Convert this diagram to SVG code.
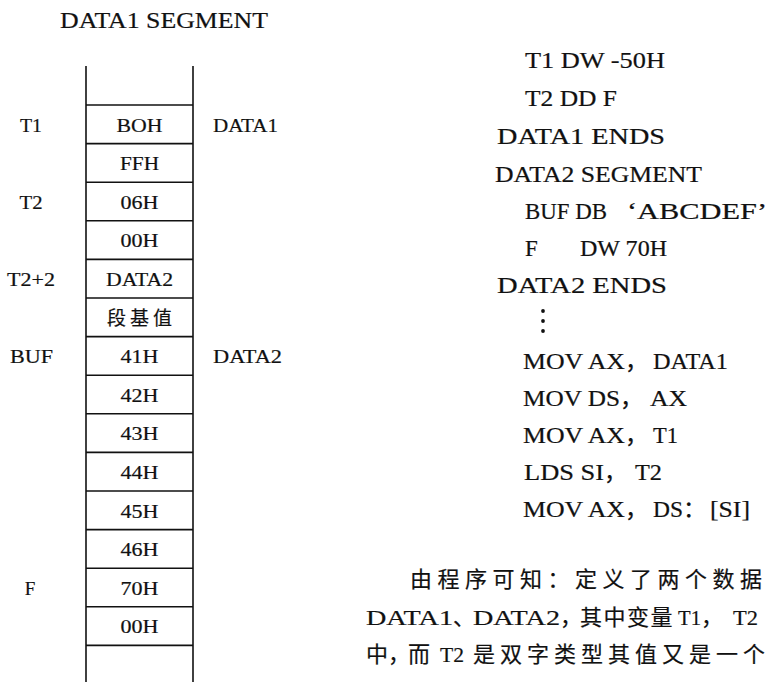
<svg xmlns="http://www.w3.org/2000/svg" width="770" height="682" viewBox="0 0 770 682">
<style>
.t{font-family:"Liberation Serif","Noto Sans CJK SC",serif;fill:#111;stroke:#111;stroke-width:0.2}
.h{font-size:23px}
.c{font-size:23px}
.m{font-size:19px}
.mc{font-size:19px;text-anchor:middle}
.p{font-size:22px}
.ln{stroke:#111;stroke-width:1.6;fill:none}
</style>
<rect width="770" height="682" fill="#fff"/>
<g id="title"><text class="t h" x="60" y="28" textLength="208" lengthAdjust="spacingAndGlyphs">DATA1 SEGMENT</text></g>
<g id="memory-column">
<line class="ln" x1="86" y1="66" x2="86" y2="682"/>
<line class="ln" x1="193" y1="66" x2="193" y2="682"/>
<line class="ln" x1="86" y1="105" x2="193" y2="105"/>
<line class="ln" x1="86" y1="143.6" x2="193" y2="143.6"/>
<line class="ln" x1="86" y1="182.2" x2="193" y2="182.2"/>
<line class="ln" x1="86" y1="220.8" x2="193" y2="220.8"/>
<line class="ln" x1="86" y1="259.4" x2="193" y2="259.4"/>
<line class="ln" x1="86" y1="298" x2="193" y2="298"/>
<line class="ln" x1="86" y1="336.6" x2="193" y2="336.6"/>
<line class="ln" x1="86" y1="375.2" x2="193" y2="375.2"/>
<line class="ln" x1="86" y1="413.8" x2="193" y2="413.8"/>
<line class="ln" x1="86" y1="452.4" x2="193" y2="452.4"/>
<line class="ln" x1="86" y1="491" x2="193" y2="491"/>
<line class="ln" x1="86" y1="529.6" x2="193" y2="529.6"/>
<line class="ln" x1="86" y1="568.2" x2="193" y2="568.2"/>
<line class="ln" x1="86" y1="606.8" x2="193" y2="606.8"/>
<line class="ln" x1="86" y1="645.4" x2="193" y2="645.4"/>
</g>
<g id="cells">
<text class="t mc" x="139.5" y="131.5" textLength="46" lengthAdjust="spacingAndGlyphs">BOH</text>
<text class="t mc" x="139.5" y="170.1" textLength="39" lengthAdjust="spacingAndGlyphs">FFH</text>
<text class="t mc" x="139.5" y="208.7" textLength="38" lengthAdjust="spacingAndGlyphs">06H</text>
<text class="t mc" x="139.5" y="247.3" textLength="38" lengthAdjust="spacingAndGlyphs">00H</text>
<text class="t mc" x="139.5" y="285.9" textLength="67" lengthAdjust="spacingAndGlyphs">DATA2</text>
<text class="t mc" x="139.5" y="324.5" textLength="65">段基值</text>
<text class="t mc" x="139.5" y="363.1" textLength="38" lengthAdjust="spacingAndGlyphs">41H</text>
<text class="t mc" x="139.5" y="401.7" textLength="38" lengthAdjust="spacingAndGlyphs">42H</text>
<text class="t mc" x="139.5" y="440.3" textLength="38" lengthAdjust="spacingAndGlyphs">43H</text>
<text class="t mc" x="139.5" y="478.9" textLength="38" lengthAdjust="spacingAndGlyphs">44H</text>
<text class="t mc" x="139.5" y="517.5" textLength="38" lengthAdjust="spacingAndGlyphs">45H</text>
<text class="t mc" x="139.5" y="556.1" textLength="38" lengthAdjust="spacingAndGlyphs">46H</text>
<text class="t mc" x="139.5" y="594.7" textLength="38" lengthAdjust="spacingAndGlyphs">70H</text>
<text class="t mc" x="139.5" y="633.3" textLength="38" lengthAdjust="spacingAndGlyphs">00H</text>
</g>
<g id="labels">
<text class="t mc" x="31" y="131.5" textLength="22" lengthAdjust="spacingAndGlyphs">T1</text>
<text class="t mc" x="31" y="208.7" textLength="23" lengthAdjust="spacingAndGlyphs">T2</text>
<text class="t mc" x="31" y="285.9" textLength="48" lengthAdjust="spacingAndGlyphs">T2+2</text>
<text class="t mc" x="31.5" y="363.1" textLength="43" lengthAdjust="spacingAndGlyphs">BUF</text>
<text class="t mc" x="30" y="594.7">F</text>
<text class="t m" x="213" y="131.5" textLength="65" lengthAdjust="spacingAndGlyphs">DATA1</text>
<text class="t m" x="213" y="363.1" textLength="69" lengthAdjust="spacingAndGlyphs">DATA2</text>
</g>
<g id="code">
<text class="t c" x="525" y="68" textLength="140" lengthAdjust="spacingAndGlyphs">T1 DW -50H</text>
<text class="t c" x="525" y="106" textLength="92" lengthAdjust="spacingAndGlyphs">T2 DD F</text>
<text class="t c" x="497" y="144" textLength="168" lengthAdjust="spacingAndGlyphs">DATA1 ENDS</text>
<text class="t c" x="495" y="182" textLength="207" lengthAdjust="spacingAndGlyphs">DATA2 SEGMENT</text>
<text class="t c" y="219"><tspan x="525" textLength="82" lengthAdjust="spacingAndGlyphs">BUF DB</tspan><tspan x="627" textLength="140" lengthAdjust="spacingAndGlyphs">‘ABCDEF’</tspan></text>
<text class="t c" y="256"><tspan x="525">F</tspan><tspan x="580" textLength="87" lengthAdjust="spacingAndGlyphs">DW 70H</tspan></text>
<text class="t c" x="497" y="293" textLength="170" lengthAdjust="spacingAndGlyphs">DATA2 ENDS</text>
<circle cx="543" cy="311" r="1.9" fill="#111"/>
<circle cx="543" cy="321" r="1.9" fill="#111"/>
<circle cx="543" cy="331" r="1.9" fill="#111"/>
<text class="t c" y="369"><tspan x="523" textLength="102" lengthAdjust="spacingAndGlyphs">MOV AX</tspan><tspan>，</tspan><tspan x="653" textLength="75" lengthAdjust="spacingAndGlyphs">DATA1</tspan></text>
<text class="t c" y="406"><tspan x="523" textLength="97" lengthAdjust="spacingAndGlyphs">MOV DS</tspan><tspan>，</tspan><tspan x="650" textLength="37" lengthAdjust="spacingAndGlyphs">AX</tspan></text>
<text class="t c" y="443"><tspan x="523" textLength="102" lengthAdjust="spacingAndGlyphs">MOV AX</tspan><tspan>，</tspan><tspan x="653" textLength="25" lengthAdjust="spacingAndGlyphs">T1</tspan></text>
<text class="t c" y="480"><tspan x="524" textLength="80" lengthAdjust="spacingAndGlyphs">LDS SI</tspan><tspan>，</tspan><tspan x="635" textLength="27" lengthAdjust="spacingAndGlyphs">T2</tspan></text>
<text class="t c" y="517"><tspan x="523" textLength="102" lengthAdjust="spacingAndGlyphs">MOV AX</tspan><tspan>，</tspan><tspan x="653" textLength="30" lengthAdjust="spacingAndGlyphs">DS</tspan><tspan>：</tspan><tspan x="710" textLength="40" lengthAdjust="spacingAndGlyphs">[SI]</tspan></text>
</g>
<g id="paragraph">
<text class="t p" x="410" y="587" letter-spacing="5.5">由程序可知：定义了两个数据</text>
<text class="t p" y="625"><tspan x="366" textLength="87" lengthAdjust="spacingAndGlyphs">DATA1</tspan><tspan>、</tspan><tspan x="473" textLength="87" lengthAdjust="spacingAndGlyphs">DATA2</tspan><tspan>，</tspan><tspan x="580" letter-spacing="1.5">其中变量</tspan><tspan x="678" textLength="23" lengthAdjust="spacingAndGlyphs">T1</tspan><tspan>，</tspan><tspan x="733" textLength="25" lengthAdjust="spacingAndGlyphs">T2</tspan></text>
<text class="t p" y="662"><tspan x="366">中，</tspan><tspan x="408">而</tspan><tspan x="440" textLength="24" lengthAdjust="spacingAndGlyphs">T2</tspan><tspan x="473" letter-spacing="5">是双字类型其值又是一个</tspan></text>
</g>
</svg>
